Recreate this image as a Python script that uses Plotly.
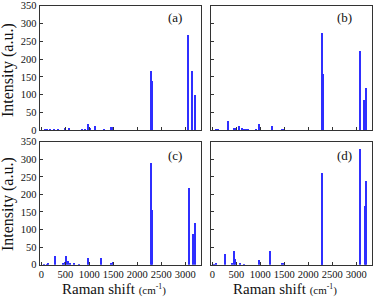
import plotly.graph_objects as go

# Raman shift (cm-1) and intensity (a.u.) for each panel
a_shift = [60, 120, 180, 250, 330, 480, 560, 830, 895, 965, 1000, 1105, 1300, 1452, 1487, 2280, 2296, 3040, 3135, 3188]
a_int   = [2, 2, 1.5, 2, 1.5, 8, 6, 4, 5, 19, 8, 14, 3, 9, 9, 168, 138, 268, 167, 100]

b_shift = [60, 100, 323, 435, 463, 553, 602, 644, 692, 740, 900, 970, 1240, 1450, 1480, 2272, 2288, 3075, 3152, 3192]
b_int   = [1.5, 2, 28, 8, 8, 12, 6, 5, 3, 2, 3, 17, 14, 3, 4, 275, 160, 223, 87, 119]

c_shift = [50, 100, 140, 285, 445, 480, 515, 550, 585, 680, 770, 965, 1237, 1452, 1480, 2278, 2294, 3070, 3154, 3195]
c_int   = [2, 2, 3, 27, 5, 8, 25, 12, 5, 3, 2, 19, 19, 6, 8, 290, 156, 220, 89, 120]

d_shift = [20, 60, 250, 404, 438, 458, 563, 646, 958, 1195, 1445, 1475, 2268, 2284, 3077, 3167, 3196]
d_int   = [2, 3, 30, 3, 39, 17, 3, 2, 15, 41, 3, 4, 262, 195, 330, 168, 239]

panels = [(a_shift, a_int, "(a)"), (b_shift, b_int, "(b)"),
          (c_shift, c_int, "(c)"), (d_shift, d_int, "(d)")]

W, H = 374, 299
def px(x): return x / W
def py(y): return 1 - y / H

xdom = [[px(39.5), px(200.7)], [px(210.5), px(371.7)]]
ydom = [[py(130.2), py(5.7)], [py(264.7), py(141.7)]]

fig = go.Figure()
BLUE = "#2f2fff"
FONT = "Liberation Serif, Times New Roman, serif"

layout = dict(width=W, height=H, margin=dict(l=0, r=0, t=0, b=0),
              paper_bgcolor="white", plot_bgcolor="white", showlegend=False,
              bargap=0, barmode="overlay")

for i, (xs, ys, lab) in enumerate(panels):
    r, c = divmod(i, 2)
    n = i + 1
    xa = "x" if n == 1 else f"x{n}"
    ya = "y" if n == 1 else f"y{n}"
    fig.add_trace(go.Bar(x=xs, y=ys, width=26, marker=dict(color=BLUE, line=dict(width=0)),
                         xaxis=xa, yaxis=ya))
    xkey = "xaxis" if n == 1 else f"xaxis{n}"
    ykey = "yaxis" if n == 1 else f"yaxis{n}"
    layout[xkey] = dict(domain=xdom[c], anchor=ya, range=[-38, 3320],
                        tickvals=[0, 500, 1000, 1500, 2000, 2500, 3000],
                        showticklabels=(r == 1), ticks="inside", ticklen=3,
                        tickangle=0,
                        tickcolor="#333", showline=True, mirror=True,
                        linecolor="#333", linewidth=1, showgrid=False, zeroline=False,
                        automargin=False,
                        tickfont=dict(family=FONT, size=10.5, color="#111"))
    layout[ykey] = dict(domain=ydom[r], anchor=xa, range=[0, 350],
                        tickvals=[0, 50, 100, 150, 200, 250, 300, 350],
                        showticklabels=(c == 0), ticks="inside", ticklen=3,
                        tickcolor="#333", showline=True, mirror=True,
                        linecolor="#333", linewidth=1, showgrid=False, zeroline=False,
                        automargin=False,
                        tickfont=dict(family=FONT, size=10.5, color="#111"))

fig.update_layout(**layout)

ann = []
label_pos = [(175, 18), (344.5, 18), (175, 155), (344.5, 155)]
for (xs, ys, lab), (lx, ly) in zip(panels, label_pos):
    ann.append(dict(text=lab, x=px(lx), y=py(ly), xref="paper", yref="paper",
                    showarrow=False, xanchor="center", yanchor="middle",
                    font=dict(family=FONT, size=13, color="#111")))
for cy in (70, 204):
    ann.append(dict(text="Intensity (a.u.)", x=px(8), y=py(cy), xref="paper", yref="paper",
                    showarrow=False, textangle=-90, xanchor="center", yanchor="middle",
                    font=dict(family=FONT, size=16, color="#111")))
for cx in (114, 285):
    ann.append(dict(text="Raman shift <span style='font-size:11px'>(cm<sup>-1</sup>)</span>",
                    x=px(cx), y=py(289), xref="paper", yref="paper",
                    showarrow=False, xanchor="center", yanchor="middle",
                    font=dict(family=FONT, size=15, color="#111")))
fig.update_layout(annotations=ann)

fig.write_html("out.html", config={"displayModeBar": False},
               post_script="document.body.style.margin='0';document.body.style.padding='0';document.documentElement.style.overflow='hidden';")
